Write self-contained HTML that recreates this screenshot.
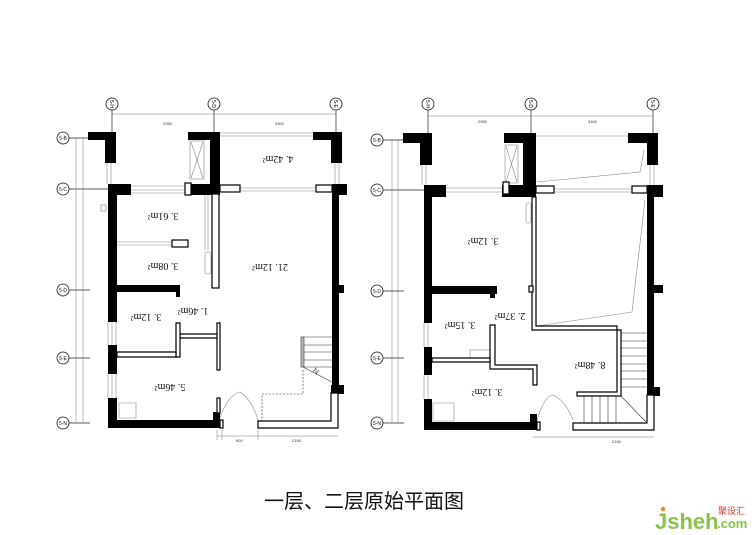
<!DOCTYPE html>
<html><head><meta charset="utf-8"><style>
html,body{margin:0;padding:0;background:#fff;}
svg{display:block;}
.t{font-family:"Liberation Serif",serif;font-size:10px;fill:#111;}
.d{font-family:"Liberation Sans",sans-serif;font-size:4px;fill:#333;}
.c{font-family:"Liberation Sans",sans-serif;font-size:5px;fill:#111;text-anchor:middle;}
</style></head><body>
<svg width="756" height="535" viewBox="0 0 756 535" xmlns="http://www.w3.org/2000/svg">
<rect width="756" height="535" fill="#fff"/>

<!-- ============ LEFT PLAN ============ -->
<g>
<g stroke="#222" stroke-width="0.7">
<line x1="112" y1="110" x2="112" y2="132"/><line x1="214" y1="110" x2="214" y2="132"/><line x1="336" y1="110" x2="336" y2="132"/>
<line x1="69" y1="138" x2="90" y2="138"/><line x1="69" y1="189" x2="108" y2="189"/><line x1="69" y1="290" x2="90" y2="290"/><line x1="69" y1="358" x2="90" y2="358"/><line x1="69" y1="423" x2="90" y2="423"/>
</g>
<g stroke="#777" stroke-width="0.5" fill="none">
<line x1="112" y1="114" x2="336" y2="114"/>
<line x1="76" y1="138" x2="76" y2="423"/><line x1="83" y1="138" x2="83" y2="423"/>
<line x1="217" y1="436" x2="338" y2="436"/>
<line x1="217" y1="430" x2="217" y2="440"/><line x1="222" y1="430" x2="222" y2="440"/><line x1="258" y1="430" x2="258" y2="440"/>
</g>
<text class="d" x="163" y="125">2950</text><text class="d" x="275" y="125">3300</text>
<text class="d" x="236" y="442">900</text><text class="d" x="292" y="442">2150</text>
<g fill="#fff" stroke="#111" stroke-width="0.8">
<circle cx="112" cy="104" r="6"/><circle cx="214" cy="104" r="6"/><circle cx="336" cy="104" r="6"/>
<circle cx="63" cy="138" r="6"/><circle cx="63" cy="189" r="6"/><circle cx="63" cy="290" r="6"/><circle cx="63" cy="358" r="6"/><circle cx="63" cy="423" r="6"/>
</g>
<g class="c">
<text transform="rotate(90 112 104)" x="112" y="106">5-H</text><text transform="rotate(90 214 104)" x="214" y="106">5-D</text><text transform="rotate(90 336 104)" x="336" y="106">5-E</text>
<text x="63" y="140">5-B</text><text x="63" y="191">5-C</text><text x="63" y="292">5-D</text><text x="63" y="360">5-E</text><text x="63" y="425">5-N</text>
</g>
<g stroke="#888" stroke-width="0.6" fill="none">
<line x1="220" y1="133" x2="313" y2="133"/><line x1="220" y1="136" x2="313" y2="136"/>
<line x1="107" y1="163" x2="107" y2="184"/><line x1="111" y1="163" x2="111" y2="184"/>
<line x1="335" y1="163" x2="335" y2="184"/><line x1="339" y1="163" x2="339" y2="184"/>
<line x1="131" y1="186" x2="187" y2="186"/><line x1="131" y1="190" x2="187" y2="190"/><line x1="131" y1="193" x2="187" y2="193"/>
<line x1="240" y1="188" x2="317" y2="188"/><line x1="240" y1="191" x2="317" y2="191"/>
<line x1="117" y1="242" x2="172" y2="242"/><line x1="117" y1="245" x2="172" y2="245"/>
<line x1="108" y1="322" x2="108" y2="345"/><line x1="112" y1="322" x2="112" y2="345"/><line x1="116" y1="322" x2="116" y2="345"/>
<line x1="108" y1="374" x2="108" y2="398"/><line x1="112" y1="374" x2="112" y2="398"/><line x1="116" y1="374" x2="116" y2="398"/>
<line x1="205" y1="195" x2="205" y2="250"/><line x1="208" y1="195" x2="208" y2="250"/>
<rect x="190" y="141" width="14" height="38"/>
<line x1="191" y1="142" x2="203" y2="178"/><line x1="203" y1="142" x2="191" y2="178"/>
<rect x="205" y="252" width="6" height="22" rx="2"/>
<rect x="101" y="205" width="5" height="6"/>
<path d="M119 403 L136 403 L136 418 L119 418 Z"/>
<path d="M220 418 Q228 395 240 392 Q252 400 258 420"/>
</g>
<g stroke="#333" stroke-width="0.6" fill="none">
<line x1="303" y1="337" x2="332" y2="337"/><line x1="303" y1="345" x2="332" y2="345"/><line x1="303" y1="352" x2="332" y2="352"/><line x1="303" y1="360" x2="332" y2="360"/><line x1="303" y1="367" x2="332" y2="367"/>
<rect x="301" y="337" width="3" height="30" fill="#bbb"/>
<line x1="303" y1="367" x2="332" y2="382"/>
<path d="M313 372 l3 -4 l0 6 l3 -4"/>
</g>
<path d="M303 370 L303 394 L262 394 L262 421" stroke="#333" stroke-width="0.6" fill="none" stroke-dasharray="2,1.5"/>
<g fill="#000">
<rect x="88" y="132" width="28" height="8"/><rect x="105" y="132" width="11" height="31"/>
<rect x="188" y="132" width="32" height="8"/><rect x="210" y="132" width="10" height="63"/>
<rect x="313" y="132" width="29" height="8"/><rect x="331" y="132" width="11" height="31"/>
<rect x="108" y="184" width="23" height="11"/>
<rect x="108" y="184" width="9" height="138"/>
<rect x="108" y="345" width="9" height="29"/>
<rect x="108" y="398" width="9" height="30"/>
<rect x="108" y="420" width="112" height="8"/>
<rect x="188" y="184" width="32" height="11"/>
<rect x="332" y="184" width="7" height="209"/><rect x="332" y="184" width="15" height="11"/>
<rect x="338" y="285" width="6" height="8"/><rect x="331" y="385" width="13" height="9"/>
<rect x="117" y="285" width="63" height="7"/><rect x="176" y="285" width="4" height="12"/>
<rect x="213" y="412" width="7" height="16"/>
</g>
<g fill="#fff" stroke="#000" stroke-width="1.2">
<rect x="212" y="194" width="7" height="94"/>
<rect x="172" y="240" width="16" height="7"/>
<rect x="220" y="185" width="20" height="7"/>
<rect x="316" y="185" width="16" height="7"/>
<rect x="185" y="183" width="6" height="12"/>
<path d="M217 323 L220 323 L220 370 L217 370 Z"/>
<path d="M180 334 L217 334 L217 338 L180 338 Z"/>
<path d="M176 323 L180 323 L180 357 L176 357 Z"/>
<path d="M117 352 L176 352 L176 357 L117 357 Z"/>
<rect x="217" y="398" width="3" height="15"/>
<rect x="220" y="420" width="3" height="8"/>
<path d="M258 421 L331 421 L331 393 L338 393 L338 428 L258 428 Z"/>
</g>
<g class="t">
<text transform="rotate(180 278 160)" x="278" y="164" text-anchor="middle">4. 42m²</text>
<text transform="rotate(180 163 217)" x="163" y="221" text-anchor="middle">3. 61m²</text>
<text transform="rotate(180 163 267)" x="163" y="271" text-anchor="middle">3. 08m²</text>
<text transform="rotate(180 270 268)" x="270" y="272" text-anchor="middle">21. 12m²</text>
<text transform="rotate(180 193 312)" x="193" y="316" text-anchor="middle">1. 46m²</text>
<text transform="rotate(180 146 318)" x="146" y="322" text-anchor="middle">3. 12m²</text>
<text transform="rotate(180 170 388)" x="170" y="392" text-anchor="middle">5. 46m²</text>
</g>
</g>

<!-- ============ RIGHT PLAN ============ -->
<g>
<g stroke="#222" stroke-width="0.7">
<line x1="428" y1="110" x2="428" y2="133"/><line x1="531" y1="110" x2="531" y2="133"/><line x1="653" y1="110" x2="653" y2="133"/>
<line x1="383" y1="140" x2="403" y2="140"/><line x1="383" y1="190" x2="424" y2="190"/><line x1="383" y1="291" x2="404" y2="291"/><line x1="383" y1="358" x2="404" y2="358"/><line x1="383" y1="423" x2="404" y2="423"/>
</g>
<g stroke="#777" stroke-width="0.5" fill="none">
<line x1="428" y1="116" x2="653" y2="116"/>
<line x1="392" y1="140" x2="392" y2="423"/><line x1="398" y1="140" x2="398" y2="423"/>
<line x1="533" y1="437" x2="654" y2="437"/>
</g>
<text class="d" x="478" y="123">2950</text><text class="d" x="588" y="123">3300</text>
<text class="d" x="612" y="443">2150</text>
<g fill="#fff" stroke="#111" stroke-width="0.8">
<circle cx="428" cy="104" r="6"/><circle cx="531" cy="104" r="6"/><circle cx="653" cy="104" r="6"/>
<circle cx="377" cy="140" r="6"/><circle cx="377" cy="190" r="6"/><circle cx="377" cy="291" r="6"/><circle cx="377" cy="358" r="6"/><circle cx="377" cy="423" r="6"/>
</g>
<g class="c">
<text transform="rotate(90 428 104)" x="428" y="106">5-H</text><text transform="rotate(90 531 104)" x="531" y="106">5-D</text><text transform="rotate(90 653 104)" x="653" y="106">5-E</text>
<text x="377" y="142">5-B</text><text x="377" y="192">5-C</text><text x="377" y="293">5-D</text><text x="377" y="360">5-E</text><text x="377" y="425">5-N</text>
</g>
<g stroke="#888" stroke-width="0.6" fill="none">
<line x1="536" y1="136" x2="628" y2="136"/>
<line x1="422" y1="165" x2="422" y2="185"/><line x1="426" y1="165" x2="426" y2="185"/>
<line x1="650" y1="165" x2="650" y2="185"/><line x1="654" y1="165" x2="654" y2="185"/>
<line x1="446" y1="188" x2="502" y2="188"/><line x1="446" y1="192" x2="502" y2="192"/>
<line x1="554" y1="189" x2="632" y2="189"/><line x1="554" y1="192" x2="632" y2="192"/>
<line x1="424" y1="323" x2="424" y2="347"/><line x1="428" y1="323" x2="428" y2="347"/>
<line x1="424" y1="375" x2="424" y2="399"/><line x1="428" y1="375" x2="428" y2="399"/>
<rect x="505" y="145" width="13" height="38"/>
<line x1="506" y1="146" x2="517" y2="182"/><line x1="517" y1="146" x2="506" y2="182"/>
<line x1="644" y1="150" x2="640" y2="172"/><line x1="640" y1="172" x2="537" y2="182"/>
<line x1="645" y1="200" x2="632" y2="312"/><line x1="632" y1="312" x2="537" y2="326"/>
<rect x="526" y="203" width="5" height="20" rx="2"/>
<path d="M433 403 L454 403 L454 421 L433 421 Z"/>
<rect x="470" y="350" width="20" height="8"/>
<path d="M537 420 Q545 395 553 395 Q565 400 573 420"/>
</g>
<g stroke="#333" stroke-width="0.6" fill="none">
<line x1="620" y1="333" x2="647" y2="333"/><line x1="620" y1="341" x2="647" y2="341"/><line x1="620" y1="348" x2="647" y2="348"/><line x1="620" y1="356" x2="647" y2="356"/><line x1="620" y1="364" x2="647" y2="364"/><line x1="620" y1="371" x2="647" y2="371"/><line x1="620" y1="379" x2="647" y2="379"/><line x1="620" y1="387" x2="647" y2="387"/>
<line x1="584" y1="395" x2="584" y2="423"/><line x1="592" y1="395" x2="592" y2="423"/><line x1="600" y1="395" x2="600" y2="423"/><line x1="608" y1="395" x2="608" y2="423"/><line x1="616" y1="395" x2="616" y2="423"/>
<line x1="620" y1="395" x2="647" y2="423"/>
</g>
<g fill="#000">
<rect x="403" y="133" width="29" height="10"/><rect x="420" y="133" width="12" height="32"/>
<rect x="504" y="133" width="32" height="10"/><rect x="523" y="133" width="13" height="64"/>
<rect x="628" y="133" width="30" height="10"/><rect x="647" y="133" width="11" height="32"/>
<rect x="424" y="185" width="22" height="12"/>
<rect x="424" y="185" width="8" height="138"/>
<rect x="424" y="347" width="8" height="28"/>
<rect x="424" y="399" width="8" height="31"/>
<rect x="424" y="422" width="113" height="8"/>
<rect x="502" y="185" width="34" height="12"/>
<rect x="647" y="185" width="7" height="210"/><rect x="647" y="185" width="16" height="12"/>
<rect x="654" y="285" width="9" height="8"/><rect x="647" y="387" width="13" height="9"/>
<rect x="432" y="286" width="65" height="8"/><rect x="490" y="286" width="5" height="12"/>
<rect x="530" y="414" width="7" height="16"/>
</g>
<g fill="#fff" stroke="#000" stroke-width="1.2">
<rect x="503" y="182" width="6" height="12"/>
<rect x="536" y="186" width="18" height="7"/><rect x="632" y="186" width="15" height="7"/>
<path d="M532 197 L536 197 L536 326 L617 326 L617 392 L577 392 L577 396 L621 396 L621 330 L532 330 Z"/>
<rect x="529" y="286" width="4" height="6"/>
<path d="M490 325 L495 325 L495 365 L537 365 L537 385 L533 385 L533 369 L490 369 Z"/>
<path d="M432 358 L490 358 L490 362 L432 362 Z"/>
<rect x="537" y="422" width="3" height="8"/>
<path d="M573 423 L647 423 L647 395 L654 395 L654 430 L573 430 Z"/>
</g>
<g class="t">
<text transform="rotate(180 483 242)" x="483" y="246" text-anchor="middle">3. 12m²</text>
<text transform="rotate(180 510 317)" x="510" y="321" text-anchor="middle">2. 37m²</text>
<text transform="rotate(180 460 326)" x="460" y="330" text-anchor="middle">3. 15m²</text>
<text transform="rotate(180 590 366)" x="590" y="370" text-anchor="middle">8. 48m²</text>
<text transform="rotate(180 487 393)" x="487" y="397" text-anchor="middle">3. 12m²</text>
</g>
</g>

<text x="364" y="508" text-anchor="middle" font-family="'Liberation Sans','Noto Sans CJK SC',sans-serif" font-size="20" fill="#111">一层、二层原始平面图</text>

<circle cx="663" cy="509" r="2.2" fill="#f08a1c"/>
<text x="655" y="529" font-family="'Liberation Sans',sans-serif" font-weight="bold" font-size="22" fill="#8bc34a">Jsheh</text>
<text x="718" y="514" font-family="'Liberation Sans','Noto Sans CJK SC',sans-serif" font-size="9" fill="#d32f2f">聚设汇</text>
<text x="717" y="528" font-family="'Liberation Sans',sans-serif" font-weight="bold" font-size="13" fill="#8bc34a">.com</text>
</svg>
</body></html>
